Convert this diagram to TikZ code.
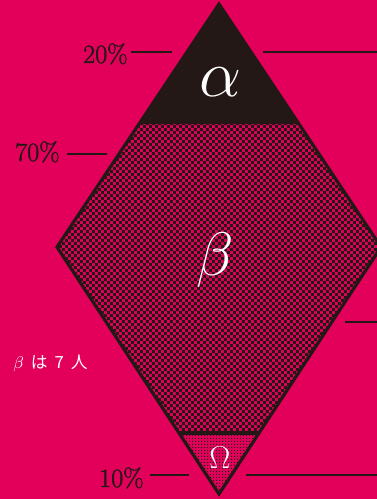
\RequirePackage{fix-cm}
\documentclass[tikz,border=0pt]{standalone}
\usepackage{fontspec}
\newfontfamily\cjk{Noto Sans CJK JP}
\newfontfamily\pctfont{Latin Modern Roman}[FakeBold=1.5]
\usetikzlibrary{calc}
\usetikzlibrary{patterns.meta}
\definecolor{rosso}{HTML}{E3005B}
\definecolor{inchiostro}{HTML}{231815}
\tikzdeclarepattern{
  name=checks,
  type=uncolored,
  bottom left={(0pt,0pt)},
  top right={(3.4pt,3.4pt)},
  tile size={(3.4pt,3.4pt)},
  code={\fill (0pt,0pt) rectangle (1.7pt,1.7pt);
        \fill (1.7pt,1.7pt) rectangle (3.4pt,3.4pt);}
}
\tikzdeclarepattern{
  name=speckle,
  type=uncolored,
  bottom left={(0pt,0pt)},
  top right={(1.8pt,1.8pt)},
  tile size={(1.8pt,1.8pt)},
  code={\fill (0pt,0pt) rectangle (0.8pt,0.8pt);}
}

\begin{document}
\begin{tikzpicture}[x=0.02cm,y=-0.02cm]
              \tikzset{pct/.style={inchiostro, inner sep=0pt, font=\pctfont\fontsize{15}{18}\selectfont},
                       lead/.style={inchiostro, line width=0.8pt},
                       letter/.style={white, inner sep=0pt},
                       rim/.style={inchiostro, line width=1.8pt, line join=miter}}

              \def\W{377}
              \def\H{499}

              \fill[rosso] (0,0) rectangle (\W,\H);
              \useasboundingbox (0,0) rectangle (\W,\H);
              \clip (0,0) rectangle (\W,\H);

              \coordinate (top) at (219,4);
              \coordinate (left) at (57,247);
              \coordinate (right) at (381,247);
              \coordinate (bottom) at (219,494);
              \coordinate (al) at ($(top)!0.494!(left)$);
              \coordinate (ar) at ($(top)!0.494!(right)$);
              \coordinate (ol) at ($(bottom)!0.247!(left)$);
              \coordinate (or) at ($(bottom)!0.247!(right)$);

              \fill[inchiostro] (top) -- (al) -- (ar) -- cycle;
              \fill[pattern=checks, pattern color=inchiostro] (al) -- (left) -- (ol) -- (or) -- (right) -- (ar) -- cycle;
              \fill[pattern=speckle, pattern color=inchiostro] (ol) -- (bottom) -- (or) -- cycle;
              \draw[rim] (top) -- (left) -- (bottom) -- (right) -- cycle;
              \draw[rim] (ol) -- (or);

              \node[letter, font=\fontsize{38}{40}\selectfont] (alpha) at (220,82) {$\alpha$};
              \node[letter, font=\fontsize{35}{40}\selectfont] (beta) at (215,260) {$\beta$};
              \node[letter, font=\fontsize{18}{20}\selectfont] (omega) at (220,458) {$\Omega$};

              \node[pct, anchor=base east] (p20) at (128,63) {20\%};
              \coordinate (p20a) at (172,52);
              \coordinate (r20a) at (263,52);
              \coordinate (r20b) at (\W,52);
              \draw[lead] (p20.east |- p20a) ++(3,0) -- (p20a);
              \draw[lead] (r20a) -- (r20b);

              \node[pct, anchor=base east] (p70) at (60,161) {70\%};
              \coordinate (p70a) at (107,154);
              \coordinate (r70a) at (345,322);
              \coordinate (r70b) at (\W,322);
              \draw[lead] (p70.east |- p70a) ++(7,0) -- (p70a);
              \draw[lead] (r70a) -- (r70b);

              \node[pct, anchor=base east] (p10) at (144,487) {10\%};
              \coordinate (p10a) at (189,475);
              \coordinate (r10a) at (246,475);
              \coordinate (r10b) at (\W,475);
              \draw[lead] (p10.east |- p10a) ++(6,0) -- (p10a);
              \draw[lead] (r10a) -- (r10b);

              \node[white, inner sep=0pt, anchor=base west, font=\cjk\fontsize{9.5}{11}\selectfont] (note) at (13,368) {$\beta$\hspace{4pt}は\hspace{4pt}7\hspace{4pt}人};
            \end{tikzpicture}
\end{document}
